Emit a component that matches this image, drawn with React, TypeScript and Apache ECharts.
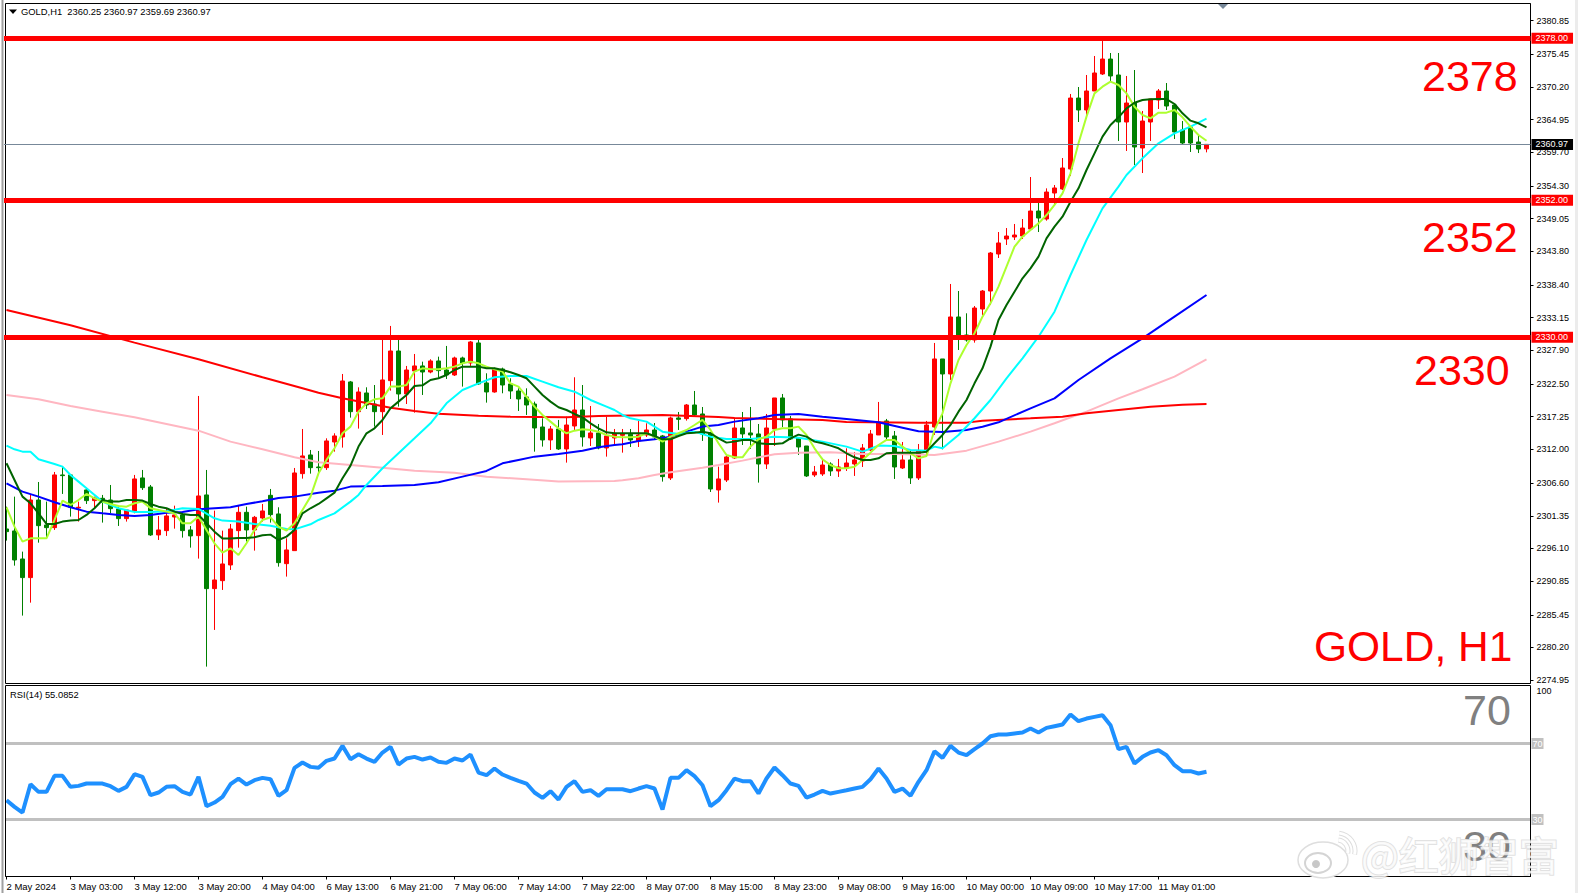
import React, { useEffect, useRef } from "react";
import * as echarts from "echarts";

const FONT = "Liberation Sans";
const BAR_SLOTS = 191;

const tickLabels = ["2 May 2024","3 May 03:00","3 May 12:00","3 May 20:00","4 May 04:00","6 May 13:00","6 May 21:00","7 May 06:00","7 May 14:00","7 May 22:00","8 May 07:00","8 May 15:00","8 May 23:00","9 May 08:00","9 May 16:00","10 May 00:00","10 May 09:00","10 May 17:00","11 May 01:00"];
const priceTicks = [2380.85,2375.45,2370.2,2364.95,2359.7,2354.3,2349.05,2343.8,2338.4,2333.15,2327.9,2322.5,2317.25,2312,2306.6,2301.35,2296.1,2290.85,2285.45,2280.2,2274.95];
const levels = [2378, 2352, 2330];
const lastPrice = 2360.97;

// open, close, low, high
const candles = [
[2299.23,2298.80,2297.36,2302.81],[2298.91,2294.25,2293.34,2304.42],[2294.41,2291.42,2285.32,2295.59],[2291.42,2303.88,2287.40,2304.69],
[2303.88,2299.76,2297.03,2306.77],[2299.87,2299.44,2297.73,2303.62],[2299.44,2307.90,2299.07,2308.38],[2307.90,2307.79,2304.85,2309.34],
[2307.90,2302.71,2301.21,2307.90],[2302.60,2302.71,2300.41,2303.62],[2305.49,2303.78,2303.24,2305.76],[2303.78,2304.20,2302.55,2304.42],
[2304.15,2303.51,2300.25,2304.69],[2303.88,2302.49,2301.74,2306.29],[2302.44,2300.89,2299.71,2302.97],[2300.89,2302.28,2300.41,2302.28],
[2302.12,2307.26,2301.74,2307.90],[2307.42,2305.86,2305.49,2308.70],[2305.97,2298.27,2298.11,2306.29],[2298.27,2299.07,2297.46,2301.32],
[2298.96,2301.32,2298.11,2302.55],[2301.15,2301.48,2299.28,2302.97],[2301.48,2298.96,2297.84,2301.74],[2299.07,2298.11,2296.23,2299.71],
[2298.16,2304.53,2294.47,2320.58],[2304.69,2289.65,2277.13,2308.70],[2289.65,2291.04,2283.02,2302.17],[2290.93,2293.61,2289.44,2298.96],
[2293.45,2299.23,2292.65,2300.03],[2298.96,2301.90,2296.23,2302.92],[2301.90,2299.07,2297.20,2302.81],[2299.07,2301.10,2295.75,2301.32],
[2300.99,2302.12,2300.41,2303.24],[2304.63,2301.53,2300.25,2305.65],[2301.64,2293.82,2293.18,2302.71],[2293.66,2295.86,2291.58,2297.73],
[2295.75,2308.22,2295.75,2309.02],[2308.11,2310.95,2307.31,2315.28],[2311.11,2309.07,2308.11,2311.91],[2309.18,2309.07,2307.95,2311.75],
[2309.07,2313.36,2308.70,2313.78],[2313.19,2314.16,2311.64,2314.59],[2314.00,2322.99,2312.29,2324.11],[2322.83,2318.06,2317.10,2322.99],
[2318.06,2321.22,2315.34,2321.97],[2321.06,2319.13,2318.49,2321.97],[2319.29,2318.06,2315.66,2322.34],[2318.06,2323.15,2314.32,2329.68],
[2323.04,2327.80,2321.44,2331.82],[2327.80,2320.90,2318.87,2330.37],[2320.90,2324.75,2319.29,2325.40],[2324.59,2325.40,2317.90,2327.32],
[2325.40,2324.43,2320.74,2326.09],[2324.43,2326.20,2324.22,2326.47],[2326.20,2324.65,2323.52,2326.89],[2324.75,2323.95,2323.31,2328.61],
[2323.95,2326.68,2323.79,2326.89],[2326.68,2325.88,2322.08,2326.89],[2325.88,2329.25,2325.40,2329.41],[2329.09,2322.51,2322.34,2330.00],
[2322.67,2321.22,2319.51,2324.22],[2321.22,2324.97,2321.11,2325.13],[2324.91,2322.34,2321.01,2325.13],[2322.51,2321.38,2320.10,2323.42],
[2321.38,2320.10,2318.17,2321.81],[2320.42,2319.13,2317.53,2321.81],[2319.29,2315.44,2311.64,2319.67],[2315.60,2313.52,2312.45,2316.99],
[2313.52,2315.28,2311.91,2315.76],[2315.28,2312.07,2311.91,2316.73],[2312.07,2315.92,2309.88,2317.26],[2315.76,2318.33,2315.12,2323.58],
[2318.33,2314.00,2312.45,2322.34],[2313.84,2314.64,2312.55,2318.97],[2314.64,2312.23,2312.02,2316.08],[2312.23,2314.16,2310.84,2317.26],
[2313.84,2314.59,2312.71,2315.28],[2314.26,2314.53,2311.48,2315.28],[2314.43,2313.52,2312.39,2315.28],[2313.36,2314.32,2312.39,2316.57],
[2314.32,2315.12,2314.00,2316.19],[2315.12,2314.00,2313.52,2316.24],[2314.16,2307.63,2306.83,2314.32],[2307.42,2317.05,2307.09,2317.26],
[2317.05,2316.83,2315.12,2318.01],[2316.94,2319.13,2316.62,2319.29],[2319.13,2317.53,2317.37,2321.38],[2317.69,2314.48,2313.36,2318.81],
[2314.64,2305.65,2305.17,2314.80],[2305.49,2307.26,2303.46,2309.23],[2307.09,2310.79,2306.77,2311.27],[2310.63,2315.44,2310.47,2316.99],
[2315.44,2314.48,2312.71,2318.01],[2314.64,2314.32,2312.07,2318.81],[2314.48,2309.66,2306.67,2316.08],[2309.66,2315.44,2308.86,2317.69],
[2315.28,2320.26,2312.55,2320.26],[2320.26,2316.73,2315.60,2320.90],[2316.89,2313.68,2313.52,2317.37],[2313.84,2312.39,2311.11,2313.84],
[2312.55,2307.74,2307.58,2312.55],[2307.90,2308.38,2307.58,2309.34],[2308.06,2309.50,2307.74,2310.63],[2309.66,2308.54,2307.74,2309.93],
[2308.54,2309.18,2307.58,2310.47],[2309.02,2309.82,2308.54,2312.18],[2309.66,2310.31,2307.74,2311.59],[2310.14,2312.23,2309.18,2312.87],
[2311.91,2314.48,2311.75,2315.12],[2314.32,2316.41,2314.32,2319.62],[2316.57,2314.00,2313.52,2316.89],[2314.16,2309.18,2307.26,2314.96],
[2309.02,2310.31,2308.86,2313.19],[2310.31,2307.42,2306.45,2311.91],[2307.42,2311.75,2307.09,2312.87],[2311.59,2315.92,2310.79,2316.57],
[2315.60,2326.52,2314.32,2329.09],[2326.52,2324.11,2312.01,2326.52],[2324.11,2333.26,2323.14,2338.56],[2333.26,2330.05,2327.96,2337.43],
[2330.37,2329.57,2329.30,2333.85],[2329.57,2334.70,2329.14,2335.02],[2334.54,2337.43,2333.58,2337.59],[2337.43,2343.53,2335.18,2343.69],
[2343.37,2345.14,2342.73,2346.90],[2345.78,2346.26,2344.82,2347.54],[2346.10,2346.42,2345.62,2348.19],[2346.26,2347.54,2345.78,2348.99],
[2347.38,2350.27,2347.22,2355.73],[2350.27,2349.15,2346.90,2352.04],[2348.99,2353.32,2348.72,2353.91],[2353.16,2353.97,2351.24,2354.45],
[2353.81,2357.18,2353.65,2358.78],[2357.02,2368.41,2355.89,2369.06],[2368.41,2366.49,2364.56,2370.18],[2366.49,2369.54,2365.68,2372.11],
[2369.54,2372.43,2369.54,2375.16],[2372.27,2374.67,2372.11,2377.56],[2374.67,2371.95,2370.98,2375.64],[2372.11,2364.56,2361.51,2375.64],
[2364.56,2367.61,2359.91,2371.95],[2367.61,2360.55,2357.66,2372.91],[2360.39,2364.72,2356.37,2366.33],[2364.56,2368.25,2361.51,2368.25],
[2368.09,2369.54,2366.65,2369.86],[2369.54,2367.13,2366.49,2370.82],[2367.29,2362.96,2361.83,2367.29],[2363.28,2361.19,2360.87,2364.72],
[2363.76,2361.19,2359.75,2363.76],[2361.35,2360.23,2359.58,2362.47],[2360.25,2360.97,2359.69,2360.97],
];

const maLime = [2302.71,2299.60,2297.20,2297.73,2297.73,2297.73,2300.67,2303.78,2303.08,2303.88,2304.85,2304.15,2303.62,2303.24,2302.92,2302.81,2303.35,2303.62,2302.55,2302.28,2302.01,2301.74,2300.14,2300.14,2301.21,2299.07,2296.93,2295.43,2296.13,2295.05,2296.93,2299.07,2300.67,2301.10,2299.60,2298.96,2300.14,2302.28,2304.42,2308.16,2310.31,2312.18,2314.59,2315.66,2318.06,2319.40,2320.04,2320.20,2322.08,2322.08,2322.34,2324.49,2325.02,2324.86,2324.86,2325.02,2325.29,2325.82,2326.09,2325.82,2325.29,2324.86,2324.49,2322.61,2322.08,2320.47,2318.87,2317.53,2316.46,2315.39,2314.59,2315.01,2315.23,2315.12,2314.85,2314.32,2314.05,2313.94,2313.94,2314.05,2314.59,2314.05,2313.25,2314.05,2314.59,2315.12,2315.92,2316.73,2315.12,2312.98,2311.11,2310.73,2310.73,2312.45,2313.62,2314.05,2315.12,2315.39,2315.39,2315.66,2314.32,2312.18,2310.41,2309.50,2308.97,2308.97,2309.23,2310.31,2311.48,2312.71,2313.52,2313.52,2312.45,2311.38,2310.57,2310.95,2315.12,2317.79,2322.61,2326.36,2328.76,2330.64,2333.31,2335.45,2338.13,2341.34,2344.55,2346.15,2347.22,2348.29,2349.63,2351.24,2353.11,2356.32,2361.14,2365.42,2369.16,2370.23,2371.04,2370.50,2369.16,2367.02,2365.68,2365.15,2366.06,2366.06,2366.49,2365.31,2363.81,2362.47,2361.56];

const maDarkGreen = [2309.77,2307.09,2304.42,2303.35,2301.74,2300.03,2300.03,2300.41,2300.57,2300.67,2301.48,2302.55,2303.88,2303.62,2303.62,2303.88,2303.88,2303.78,2303.24,2302.81,2302.55,2302.01,2301.64,2301.48,2301.48,2300.14,2298.80,2297.68,2297.68,2297.78,2297.78,2297.89,2298.21,2298.32,2297.46,2298.00,2299.07,2301.74,2302.55,2303.24,2304.15,2305.06,2307.36,2309.40,2312.45,2314.59,2315.39,2316.73,2318.60,2319.67,2320.74,2322.18,2322.29,2323.15,2323.42,2323.95,2324.75,2325.29,2325.29,2325.29,2325.02,2325.02,2324.75,2324.38,2323.95,2323.42,2322.08,2320.74,2319.67,2318.76,2318.33,2317.69,2317.15,2316.19,2315.39,2314.75,2314.59,2314.59,2314.59,2314.59,2314.59,2314.16,2313.62,2313.62,2314.16,2314.59,2314.69,2314.85,2314.59,2313.78,2313.09,2313.25,2313.52,2313.52,2312.98,2312.87,2312.87,2312.98,2313.78,2314.37,2314.05,2313.25,2312.98,2312.61,2312.18,2311.38,2310.73,2310.31,2310.31,2310.57,2311.38,2311.48,2311.48,2311.48,2311.48,2311.64,2312.98,2314.32,2315.92,2318.06,2319.93,2322.61,2325.02,2328.50,2332.78,2335.18,2337.32,2339.47,2341.07,2342.94,2345.89,2347.76,2349.36,2351.77,2353.91,2356.86,2359.53,2362.21,2364.08,2365.31,2366.76,2367.66,2368.09,2368.20,2368.25,2368.25,2367.45,2365.95,2364.78,2364.35,2363.70];

// [bar, value] readings taken along the smooth averages
const maCyan = [[0,2312.61],[1,2312.02],[2,2311.64],[3,2311.64],[4,2310.41],[6,2309.66],[7,2309.23],[8,2307.90],[9,2306.83],[10,2305.76],[12,2303.62],[14,2302.55],[16,2301.96],[18,2301.96],[20,2302.06],[22,2302.55],[24,2302.44],[26,2300.94],[27,2300.57],[29,2300.41],[31,2300.03],[33,2299.76],[35,2299.23],[36,2299.17],[38,2299.98],[39,2300.67],[41,2301.74],[43,2303.62],[44,2304.69],[45,2306.29],[47,2308.97],[49,2311.38],[51,2313.78],[53,2316.19],[55,2319.40],[57,2321.54],[59,2322.61],[61,2323.58],[63,2323.79],[65,2323.79],[67,2322.88],[69,2321.97],[71,2321.27],[73,2319.94],[75,2318.87],[76,2318.33],[77,2317.53],[78,2316.99],[80,2316.46],[82,2314.85],[84,2314.48],[86,2314.85],[88,2314.05],[90,2313.68],[93,2313.68],[96,2314.05],[99,2313.89],[102,2313.25],[105,2312.45],[107,2311.64],[109,2312.61],[111,2312.55],[113,2311.91],[115,2311.80],[116,2312.45],[117,2312.18],[119,2314.32],[121,2317.00],[123,2319.93],[125,2323.41],[127,2326.62],[129,2330.10],[131,2334.11],[133,2340.00],[135,2345.62],[137,2350.70],[139,2354.18],[140,2356.05],[142,2358.73],[144,2361.14],[146,2362.74],[148,2363.81],[150,2365.10]];

const maBlue = [[0,2306.56],[2,2305.22],[4,2304.42],[6,2303.51],[8,2302.71],[10,2302.01],[12,2301.74],[14,2301.48],[16,2301.32],[18,2301.48],[20,2301.85],[22,2301.96],[24,2302.39],[26,2302.55],[28,2302.71],[30,2303.24],[32,2303.67],[34,2304.20],[36,2304.42],[39,2305.06],[41,2305.38],[43,2306.03],[47,2306.13],[51,2306.29],[54,2306.72],[57,2307.63],[60,2308.54],[62,2309.77],[64,2310.31],[66,2310.84],[69,2311.27],[72,2311.80],[74,2312.34],[76,2312.71],[77,2312.82],[79,2313.36],[81,2313.62],[83,2314.05],[85,2314.85],[87,2315.66],[89,2315.92],[91,2316.46],[94,2316.99],[96,2317.53],[99,2317.69],[102,2317.26],[105,2316.89],[109,2316.35],[112,2315.49],[114,2314.91],[117,2314.80],[120,2315.12],[122,2315.65],[124,2316.35],[128,2318.60],[131,2320.20],[134,2323.14],[138,2326.62],[142,2329.83],[146,2333.31],[150,2336.79]];

const maPink = [[0,2320.74],[4,2320.04],[8,2318.97],[12,2318.06],[16,2317.15],[20,2316.08],[24,2315.01],[28,2313.25],[32,2312.02],[36,2310.73],[39,2309.93],[43,2309.50],[47,2309.07],[51,2308.59],[56,2308.27],[60,2307.63],[65,2307.20],[69,2306.83],[76,2306.93],[77,2307.04],[79,2307.36],[81,2307.90],[83,2308.33],[87,2309.07],[89,2309.50],[92,2310.20],[96,2311.22],[99,2311.48],[103,2311.54],[107,2311.27],[111,2311.27],[116,2311.11],[120,2311.80],[124,2313.25],[128,2314.85],[131,2316.19],[135,2318.06],[139,2320.20],[142,2321.65],[146,2323.68],[150,2326.46]];

const maRed = [[0,2334.38],[8,2331.92],[16,2329.14],[24,2326.47],[32,2323.58],[37,2321.81],[39,2321.10],[42,2320.20],[48,2318.70],[51,2318.17],[54,2317.74],[59,2317.42],[63,2317.26],[70,2317.15],[74,2317.37],[82,2317.53],[89,2317.21],[91,2317.05],[96,2316.89],[102,2316.73],[105,2316.41],[114,2316.30],[120,2316.30],[122,2316.62],[128,2316.99],[132,2317.26],[135,2317.79],[139,2318.33],[143,2318.86],[147,2319.18],[150,2319.29]];

const rsi = [40.16,36.65,33.67,48.58,44.55,44.55,52.97,52.97,47.18,47.70,48.93,48.93,48.93,47.53,45.07,47.18,53.84,52.44,42.79,44.20,47.18,47.53,44.55,43.14,52.44,37.00,38.93,41.91,48.58,51.56,48.40,50.69,51.91,51.21,42.44,45.42,57.18,59.98,57.70,57.18,60.86,62.09,68.76,61.74,64.37,62.09,60.34,65.25,68.23,58.93,62.09,62.97,61.56,62.62,60.34,59.81,62.09,61.04,64.20,54.72,53.32,56.83,53.67,51.91,50.34,48.93,44.20,41.39,44.90,40.51,47.18,50.16,44.55,45.42,42.44,45.95,45.95,45.95,44.90,46.30,47.53,46.30,35.25,51.91,51.91,55.95,52.79,48.05,37.00,40.16,45.42,51.56,50.16,50.16,43.67,51.56,57.35,53.32,48.93,47.70,41.56,43.14,45.07,43.67,44.55,45.42,46.30,47.18,51.21,56.83,51.56,44.55,46.30,42.44,49.81,55.95,65.95,62.44,68.76,65.25,63.84,67.00,70.00,73.84,74.72,74.72,75.25,75.77,77.88,75.77,78.23,79.11,79.98,85.25,81.74,83.14,84.02,84.90,79.63,67.00,68.23,59.46,62.97,65.25,66.48,63.84,58.58,55.42,55.42,54.20,55.09];

const categories = Array.from({ length: BAR_SLOTS }, (_, i) => (i % 8 === 0 ? tickLabels[i / 8] ?? "" : ""));

const maLine = (name: string, color: string, data: any[], width = 2) => ({
  name, type: "line", xAxisIndex: 0, yAxisIndex: 0, data, showSymbol: false, symbol: "none",
  lineStyle: { color, width }, z: 3, silent: true,
});

const levelTag = (v: number, bg: string, color = "#fff") => ({
  show: true, position: "end", distance: 1, formatter: () => v.toFixed(2), color, backgroundColor: bg,
  fontFamily: FONT, fontSize: 9, padding: [1, 5, 1, 4],
});

const bigText = (text: string, x: number, y: number, fill = "#ff0000", fontSize = 43) => ({
  type: "text", x, y, z: 7, silent: true,
  style: { text, fill, fontFamily: FONT, fontSize, textVerticalAlign: "middle", textAlign: "left" },
});

const halo = "#dedede";

const option: any = {
  animation: false,
  backgroundColor: "#ffffff",
  grid: [
    { left: 2.5, top: 4, width: 1528, height: 679 },
    { left: 2.5, top: 686.5, width: 1528, height: 190 },
  ],
  xAxis: [
    { type: "category", gridIndex: 0, data: categories, show: false, boundaryGap: true },
    {
      type: "category", gridIndex: 1, data: categories, boundaryGap: true,
      axisLine: { show: true, lineStyle: { color: "#000" } },
      axisTick: { show: true, alignWithLabel: true, length: 3, lineStyle: { color: "#000" },
        interval: (i: number) => i % 8 === 0 && i <= 144 },
      axisLabel: { interval: 7, align: "left", margin: 5, color: "#000", fontFamily: FONT, fontSize: 9.5 },
      splitLine: { show: false },
    },
  ],
  yAxis: [
    {
      type: "value", gridIndex: 0, position: "right", min: 2274.5, max: 2383.506, scale: true,
      splitLine: { show: false },
      axisLine: { show: true, lineStyle: { color: "#000" } },
      axisTick: { show: true, length: 3, lineStyle: { color: "#000" }, customValues: priceTicks },
      axisLabel: { customValues: priceTicks, margin: 6, color: "#000", fontFamily: FONT, fontSize: 9,
        formatter: (v: number) => v.toFixed(2) },
    },
    {
      type: "value", gridIndex: 1, position: "right", min: 0, max: 100,
      splitLine: { show: false },
      axisLine: { show: true, lineStyle: { color: "#000" } },
      axisTick: { show: false },
      axisLabel: { customValues: [100], margin: 6, color: "#000", fontFamily: FONT, fontSize: 9, verticalAlign: "top" },
    },
  ],
  series: [
    {
      name: "GOLD,H1", type: "candlestick", xAxisIndex: 0, yAxisIndex: 0, data: candles, barWidth: 4, z: 2, silent: true,
      itemStyle: { color: "#ff0000", borderColor: "#ff0000", color0: "#008000", borderColor0: "#008000", borderWidth: 1 },
      markLine: {
        silent: true, symbol: ["none", "none"], animation: false, z: 5, precision: 2,
        data: [
          { yAxis: lastPrice, lineStyle: { color: "#778899", width: 1, type: "solid" }, label: levelTag(lastPrice, "#000") },
          ...levels.map((v) => ({ yAxis: v, lineStyle: { color: "#ff0000", width: 5, type: "solid" }, label: levelTag(v, "#ff0000") })),
        ],
      },
    },
    maLine("MA pink", "#ffb6c1", maPink),
    maLine("MA red", "#ff0000", maRed),
    maLine("MA blue", "#0000ff", maBlue, 2),
    maLine("MA cyan", "#00ffff", maCyan),
    maLine("MA lime", "#adff2f", maLime),
    maLine("MA dark green", "#006400", maDarkGreen),
    {
      name: "RSI(14)", type: "line", xAxisIndex: 1, yAxisIndex: 1, data: rsi, showSymbol: false, symbol: "none", silent: true,
      lineStyle: { color: "#1e90ff", width: 4 }, z: 3,
      markLine: {
        silent: true, symbol: ["none", "none"], animation: false, z: 2,
        data: [70, 30].map((v) => ({
          yAxis: v, lineStyle: { color: "#c0c0c0", width: 3, type: "solid" },
          label: { show: true, position: "end", distance: 1, formatter: String(v), color: "#fff", backgroundColor: "#c0c0c0", fontFamily: FONT, fontSize: 9, padding: [1, 1, 1, 1] },
        })),
      },
    },
  ],
  graphic: { elements: [
    { type: "rect", z: 4, silent: true, shape: { x: 0, y: 0, width: 5.5, height: 893 }, style: { fill: "#fff" } },
    { type: "rect", z: 6, silent: true, shape: { x: 0, y: 0, width: 4, height: 893 }, style: { fill: "#fff" } },
    { type: "rect", z: 6, silent: true, shape: { x: 1.5, y: 0, width: 2, height: 893 }, style: { fill: "#a0a0a0" } },
    { type: "rect", z: 6, silent: true, shape: { x: 1575, y: 0, width: 3, height: 893 }, style: { fill: "#ececec" } },
    { type: "rect", z: 4, silent: true, shape: { x: 5.5, y: 3.5, width: 1525, height: 680 }, style: { fill: "none", stroke: "#000", lineWidth: 1 } },
    { type: "rect", z: 4, silent: true, shape: { x: 5.5, y: 685.5, width: 1525, height: 191 }, style: { fill: "none", stroke: "#000", lineWidth: 1 } },
    { type: "polygon", z: 7, silent: true, shape: { points: [[1218, 4], [1228, 4], [1223, 9]] }, style: { fill: "#778899" } },
    { type: "polygon", z: 7, silent: true, shape: { points: [[9, 9.5], [17, 9.5], [13, 14]] }, style: { fill: "#000" } },
    { type: "text", z: 7, silent: true, x: 21, y: 11.5, style: { text: "GOLD,H1  2360.25 2360.97 2359.69 2360.97", fill: "#000", fontFamily: FONT, fontSize: 9.4, textVerticalAlign: "middle" } },
    { type: "text", z: 7, silent: true, x: 10, y: 694, style: { text: "RSI(14) 55.0852", fill: "#000", fontFamily: FONT, fontSize: 9.4, textVerticalAlign: "middle" } },
    bigText("2378", 1422, 76),
    bigText("2352", 1422, 237),
    bigText("2330", 1414, 370),
    bigText("GOLD, H1", 1314, 646, "#ff0000", 42.5),
    bigText("70", 1463, 710, "#808080"),
    bigText("30", 1463, 846, "#808080"),
    // watermark
    { type: "ellipse", z: 8, silent: true, shape: { cx: 1323, cy: 860, rx: 25, ry: 18 }, style: { fill: "#fff", stroke: halo, lineWidth: 1.5 } },
    { type: "ellipse", z: 8, silent: true, shape: { cx: 1318, cy: 863, rx: 13, ry: 10 }, style: { fill: "#fff", stroke: "#d4d4d4", lineWidth: 2 } },
    { type: "circle", z: 8, silent: true, shape: { cx: 1316, cy: 864, r: 4 }, style: { fill: "#c8c8c8" } },
    { type: "arc", z: 8, silent: true, shape: { cx: 1337, cy: 851, r: 11, startAngle: -1.45, endAngle: 0.2 }, style: { stroke: halo, lineWidth: 5, fill: "none" } },
    { type: "arc", z: 8, silent: true, shape: { cx: 1337, cy: 851, r: 11, startAngle: -1.45, endAngle: 0.2 }, style: { stroke: "#fff", lineWidth: 3, fill: "none" } },
    { type: "arc", z: 8, silent: true, shape: { cx: 1337, cy: 851, r: 18, startAngle: -1.45, endAngle: 0.2 }, style: { stroke: halo, lineWidth: 5, fill: "none" } },
    { type: "arc", z: 8, silent: true, shape: { cx: 1337, cy: 851, r: 18, startAngle: -1.45, endAngle: 0.2 }, style: { stroke: "#fff", lineWidth: 3, fill: "none" } },
    { type: "text", z: 8, silent: true, x: 1361, y: 854, style: { text: "@红狮智富", fill: "rgba(255,255,255,0.8)", stroke: "rgba(190,190,190,0.45)", lineWidth: 2, fontFamily: "Noto Sans CJK SC", fontSize: 40, textVerticalAlign: "middle" } },
  ] },
};

export default function App() {
  const ref = useRef<HTMLDivElement>(null);
  useEffect(() => {
    const chart = echarts.init(ref.current as HTMLDivElement, undefined, { renderer: "svg" });
    chart.setOption(option);
    return () => chart.dispose();
  }, []);
  return <div ref={ref} style={{ position: "fixed", left: 0, top: 0, width: 1578, height: 893 }} />;
}
